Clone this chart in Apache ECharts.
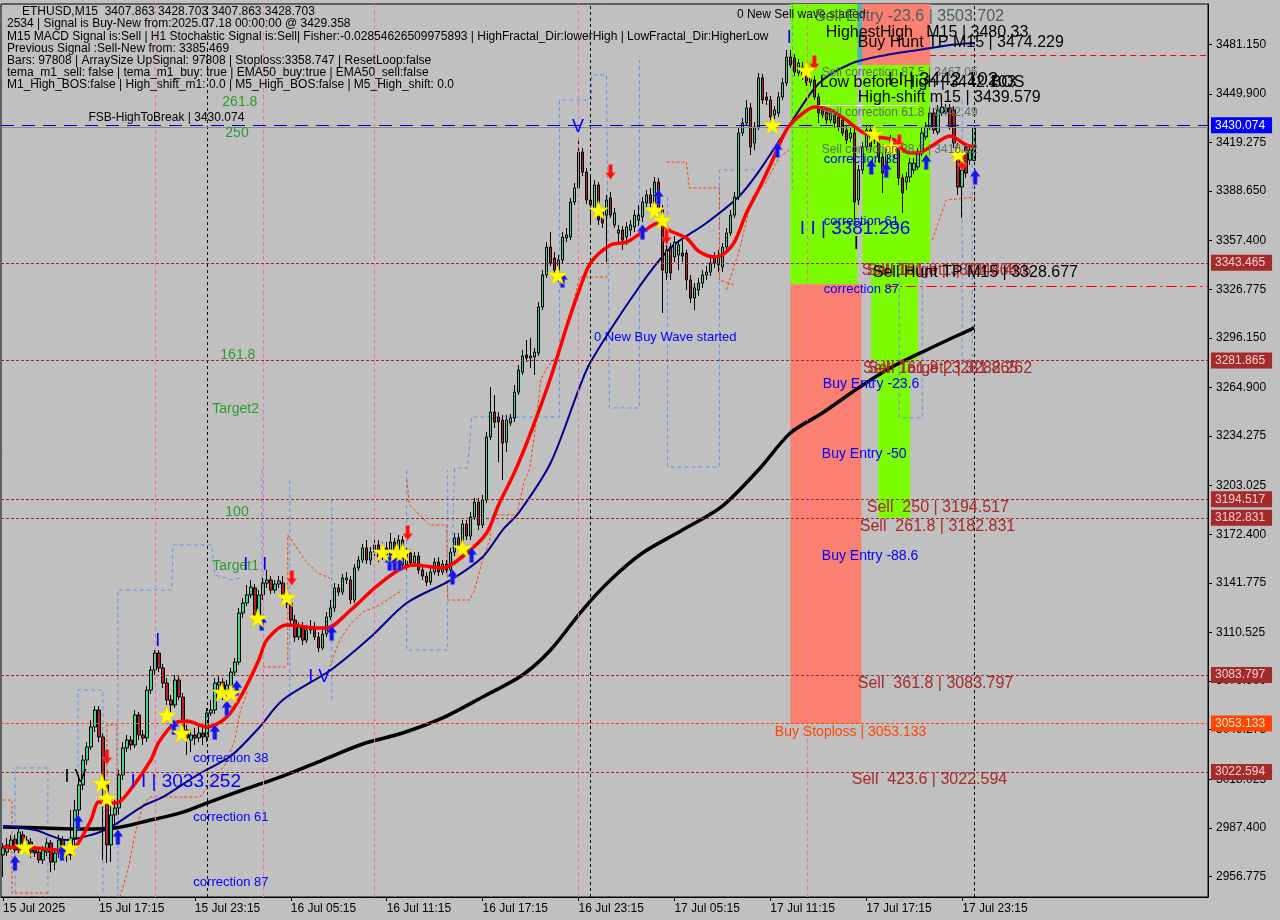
<!DOCTYPE html>
<html><head><meta charset="utf-8">
<script src="https://cdn.jsdelivr.net/npm/echarts@6/dist/echarts.min.js"></script>
<style>html,body{margin:0;padding:0;background:#c0c0c0}#c{width:1280px;height:920px}</style>
</head><body><div id="c"></div>
<script>
// ---------------- DATA ----------------
const barCount = 302;               // visible bar slots (incl. right-hand empty shift)
const startTimeUTC = Date.UTC(2025, 6, 15, 11, 15);
const tickBars = [0, 24, 48, 72, 96, 120, 144, 168, 192, 216, 240];
const tickLabels = ['15 Jul 2025','15 Jul 17:15','15 Jul 23:15','16 Jul 05:15','16 Jul 11:15','16 Jul 17:15','16 Jul 23:15','17 Jul 05:15','17 Jul 11:15','17 Jul 17:15','17 Jul 23:15'];
const priceTicks = [3481.150,3449.900,3419.275,3388.650,3357.400,3326.775,3296.150,3264.900,3234.275,3203.025,3172.400,3141.775,3110.525,3079.900,3049.275,3018.025,2987.400,2956.775];
const priceMin = 2943.9, priceMax = 3506.5;

// [open, close, low, high]
const ohlc = [
[2970.4,2974.8,2956.5,2977.9],[2972.2,2976.7,2969.7,2981.1],[2975.4,2979.8,2973.5,2983.0],[2980.4,2973.5,2971.6,2983.0],
[2973.5,2984.8,2971.6,2987.4],[2983.0,2977.9,2976.0,2985.5],[2976.7,2979.8,2973.5,2982.3],[2978.5,2972.2,2968.5,2981.1],
[2973.5,2971.6,2969.1,2976.0],[2972.2,2967.2,2965.3,2974.8],[2967.2,2973.5,2964.7,2976.0],[2972.2,2977.9,2969.7,2981.1],
[2977.9,2965.9,2959.6,2979.8],[2965.9,2971.6,2960.9,2974.8],[2971.6,2979.8,2968.5,2983.0],[2979.8,2972.2,2969.7,2982.3],
[2972.2,2970.4,2965.9,2974.8],[2970.4,2981.1,2967.2,2998.7],[2981.1,2998.7,2976.7,3005.0],[2998.7,3014.5,2995.6,3020.8],
[3014.5,3030.2,3011.3,3033.4],[3030.2,3038.4,3027.1,3041.5],[3038.4,3051.0,3036.5,3055.4],[3051.0,3061.7,3047.8,3064.2],
[3061.7,3044.7,3041.5,3064.2],[3044.7,3014.5,2967.2,3047.2],[3014.5,2976.7,2965.3,3017.6],[2976.7,2995.6,2965.9,3001.9],
[2995.6,3000.0,2989.3,3005.0],[3000.0,3020.8,2995.6,3023.9],[3020.8,3037.8,3017.6,3041.5],[3037.8,3042.8,3035.2,3046.0],
[3042.8,3039.7,3036.5,3045.3],[3039.7,3058.6,3037.8,3061.7],[3058.6,3046.0,3042.8,3060.4],[3046.0,3044.1,3039.7,3049.1],
[3044.1,3074.3,3041.5,3076.8],[3074.3,3086.9,3071.8,3089.4],[3086.9,3097.6,3083.8,3099.5],[3097.6,3088.2,3085.6,3099.5],
[3088.2,3078.7,3075.6,3090.7],[3078.7,3068.0,3064.9,3081.9],[3068.0,3064.9,3060.4,3071.2],[3064.9,3080.6,3063.0,3083.8],
[3080.6,3069.9,3068.0,3083.1],[3069.9,3049.1,3046.0,3072.4],[3049.1,3044.1,3033.4,3052.3],[3042.8,3046.0,3035.2,3049.1],
[3046.0,3044.1,3039.7,3050.4],[3044.1,3047.2,3041.5,3052.3],[3047.2,3044.7,3039.7,3051.6],[3044.7,3059.8,3041.5,3063.0],
[3059.8,3061.7,3057.9,3068.0],[3061.7,3078.7,3059.2,3081.9],[3077.5,3079.3,3074.3,3083.1],[3079.3,3071.2,3068.0,3081.9],
[3071.2,3077.5,3069.3,3080.6],[3077.5,3085.6,3074.3,3088.2],[3085.6,3091.9,3083.1,3094.5],[3091.9,3122.8,3090.1,3126.0],
[3122.8,3129.1,3119.7,3132.3],[3129.1,3134.2,3127.2,3140.5],[3134.2,3139.2,3132.3,3143.6],[3138.6,3121.6,3118.4,3141.1],
[3121.6,3134.2,3119.7,3137.3],[3134.2,3141.7,3131.0,3144.9],[3141.7,3143.6,3138.6,3149.9],[3143.6,3137.3,3134.8,3146.1],
[3137.3,3141.1,3135.4,3143.6],[3141.1,3143.0,3138.6,3146.1],[3141.7,3134.2,3131.0,3146.1],[3134.2,3129.1,3126.0,3137.3],
[3129.1,3118.4,3115.9,3131.0],[3118.4,3107.7,3104.5,3121.6],[3107.7,3114.0,3105.8,3117.1],[3114.0,3105.8,3102.7,3117.1],
[3105.8,3112.1,3103.9,3115.3],[3112.1,3114.0,3109.6,3118.4],[3114.0,3107.7,3105.8,3117.1],[3107.7,3100.8,3098.2,3110.8],
[3100.8,3109.6,3099.5,3112.1],[3109.6,3120.3,3107.7,3123.4],[3120.3,3126.0,3118.4,3131.0],[3126.0,3138.6,3123.4,3141.7],
[3138.6,3136.0,3133.5,3141.1],[3136.0,3144.9,3134.2,3147.4],[3143.6,3144.9,3141.1,3148.6],[3143.6,3131.0,3128.5,3146.1],
[3131.0,3151.2,3129.1,3153.7],[3151.2,3156.2,3149.3,3158.7],[3156.2,3163.8,3154.3,3166.3],[3163.8,3156.2,3153.7,3168.8],
[3156.2,3161.2,3153.1,3164.4],[3161.2,3165.7,3158.7,3170.1],[3165.7,3158.1,3154.9,3168.8],[3158.1,3163.8,3156.2,3167.5],
[3163.8,3159.4,3156.2,3167.5],[3159.4,3167.5,3157.5,3173.2],[3167.5,3160.6,3158.1,3170.1],[3160.6,3168.8,3158.7,3172.0],
[3168.8,3153.1,3151.2,3171.3],[3153.1,3160.6,3149.9,3163.8],[3160.6,3154.3,3152.4,3163.1],[3154.3,3158.7,3151.8,3161.2],
[3158.7,3149.9,3147.4,3161.2],[3149.9,3146.1,3143.6,3153.1],[3146.1,3142.3,3139.8,3148.6],[3142.3,3148.6,3140.5,3151.2],
[3148.6,3154.9,3146.8,3157.5],[3154.9,3148.6,3146.1,3158.1],[3148.6,3153.7,3146.8,3156.2],[3153.7,3149.9,3148.0,3156.2],
[3149.9,3161.2,3148.0,3163.8],[3161.2,3170.1,3158.7,3173.2],[3170.1,3165.0,3162.5,3173.2],[3165.0,3178.9,3163.1,3181.4],
[3178.9,3171.3,3168.8,3181.4],[3171.3,3183.3,3168.8,3186.4],[3183.3,3192.7,3181.4,3195.3],[3192.7,3178.3,3175.1,3195.3],
[3178.3,3194.0,3176.4,3197.2],[3194.0,3233.7,3192.1,3236.8],[3233.7,3249.4,3231.8,3265.2],[3249.4,3243.1,3239.4,3260.2],
[3246.3,3243.1,3217.9,3249.4],[3244.4,3229.9,3206.6,3247.6],[3230.5,3244.4,3224.2,3247.6],[3242.5,3245.7,3240.6,3248.2],
[3245.7,3262.0,3243.1,3266.4],[3262.0,3275.9,3260.2,3279.1],[3274.6,3284.7,3272.8,3288.5],[3285.4,3283.5,3280.9,3294.8],
[3283.5,3284.7,3277.2,3296.1],[3284.1,3287.2,3272.8,3289.8],[3286.6,3315.6,3284.7,3318.7],[3315.6,3335.8,3313.7,3338.9],
[3335.8,3353.4,3333.9,3356.5],[3353.4,3343.3,3341.4,3362.8],[3346.5,3338.9,3335.8,3350.2],[3335.8,3345.2,3331.3,3348.4],
[3345.2,3359.7,3343.3,3362.8],[3359.1,3361.0,3356.5,3365.4],[3359.7,3381.7,3357.8,3384.3],[3381.7,3390.6,3379.9,3393.7],
[3390.6,3413.2,3389.3,3422.7],[3413.2,3400.6,3398.1,3415.8],[3400.6,3383.0,3380.5,3403.2],[3383.0,3379.9,3368.5,3397.5],
[3378.0,3392.5,3375.4,3395.6],[3392.5,3370.4,3367.3,3394.3],[3375.4,3368.5,3365.4,3378.0],[3373.5,3383.0,3343.9,3386.2],
[3384.3,3373.5,3371.7,3388.0],[3367.3,3374.8,3365.4,3378.0],[3362.2,3364.1,3354.7,3367.3],[3364.1,3357.8,3351.5,3366.6],
[3359.7,3366.0,3354.7,3369.1],[3364.1,3367.3,3360.3,3370.4],[3366.0,3373.5,3362.8,3376.7],[3370.4,3373.5,3366.6,3379.9],
[3372.3,3381.7,3369.1,3384.9],[3381.1,3386.2,3378.6,3389.3],[3386.2,3381.1,3378.6,3390.6],[3378.6,3394.3,3376.7,3397.5],
[3394.3,3376.7,3374.2,3396.9],[3376.7,3338.9,3311.8,3379.9],[3337.0,3351.5,3332.6,3354.7],[3353.4,3337.0,3332.6,3355.9],
[3347.1,3356.5,3343.9,3360.3],[3348.4,3354.7,3338.9,3357.8],[3349.6,3347.7,3343.9,3357.8],[3349.6,3332.6,3326.3,3351.5],
[3332.6,3321.3,3318.1,3335.8],[3321.3,3327.6,3313.7,3330.7],[3326.3,3330.7,3322.5,3333.9],[3330.7,3335.8,3327.6,3338.9],
[3335.8,3337.6,3332.6,3341.4],[3337.6,3343.3,3335.1,3346.5],[3347.1,3343.3,3340.2,3350.2],[3342.1,3347.1,3337.6,3351.5],
[3340.8,3353.4,3337.6,3355.9],[3353.4,3362.2,3351.5,3365.4],[3362.2,3373.5,3360.3,3376.7],[3373.5,3384.9,3371.7,3388.0],
[3384.9,3425.2,3383.0,3428.4],[3425.2,3431.5,3423.3,3434.7],[3431.5,3441.0,3429.6,3446.0],[3441.0,3416.4,3411.4,3444.1],
[3418.9,3429.0,3414.5,3432.1],[3429.0,3459.9,3427.1,3463.0],[3459.9,3446.0,3443.5,3462.4],[3447.9,3446.0,3442.9,3451.0],
[3446.0,3435.3,3430.3,3448.5],[3436.6,3439.7,3434.0,3442.2],[3437.8,3447.9,3435.3,3451.0],[3447.9,3456.7,3446.0,3459.9],
[3456.7,3473.1,3454.8,3477.5],[3473.1,3468.0,3466.2,3477.5],[3472.5,3463.6,3461.1,3475.0],[3463.0,3469.3,3461.1,3471.8],
[3460.5,3466.8,3458.6,3470.0],[3463.0,3456.7,3454.8,3466.2],[3457.3,3459.9,3454.8,3461.8],[3458.6,3447.9,3446.0,3461.1],
[3447.9,3437.8,3431.5,3450.4],[3439.7,3436.6,3434.7,3442.2],[3438.4,3433.4,3430.9,3441.0],[3433.4,3437.8,3431.5,3441.0],
[3436.6,3431.5,3429.0,3439.1],[3435.3,3429.0,3426.5,3437.8],[3433.4,3425.2,3423.3,3435.9],[3427.1,3420.8,3418.3,3429.6],
[3422.1,3425.2,3419.5,3428.4],[3425.2,3381.7,3370.4,3428.4],[3383.0,3401.9,3379.9,3405.1],[3401.9,3416.4,3399.4,3419.5],
[3416.4,3427.1,3414.5,3430.3],[3427.1,3416.4,3413.2,3429.6],[3420.8,3425.2,3418.3,3428.4],[3424.0,3410.1,3406.9,3426.5],
[3410.1,3400.0,3387.4,3412.6],[3403.8,3414.5,3400.6,3417.7],[3414.5,3420.8,3412.0,3424.0],[3418.9,3412.6,3409.5,3422.1],
[3418.9,3396.9,3392.5,3422.1],[3396.9,3387.4,3374.8,3399.4],[3394.3,3397.5,3389.3,3400.6],[3397.5,3406.3,3394.3,3409.5],
[3401.9,3406.3,3399.4,3409.5],[3403.8,3412.6,3401.9,3415.8],[3412.6,3425.2,3410.7,3428.4],[3422.7,3429.0,3420.8,3432.1],
[3429.0,3437.8,3427.1,3441.0],[3437.8,3427.1,3424.6,3441.0],[3425.8,3439.7,3424.0,3442.9],[3437.8,3441.6,3435.9,3444.7],
[3438.4,3441.0,3436.6,3443.5],[3441.0,3429.0,3427.1,3443.5],[3439.7,3418.9,3415.8,3442.2],[3416.4,3391.2,3386.2,3418.9],
[3391.2,3401.9,3371.7,3405.1],[3416.4,3400.0,3396.9,3418.9],[3408.2,3414.5,3405.1,3417.7],[3407.863,3428.703,3407.863,3428.703]
];

// moving averages read at sample bars: [barIndex, price]
const maSlow = [[0,2988.0],[10,2987.4],[20,2986.7],[28,2987.4],[36,2991.8],[45,2997.4],[51,3003.1],[60,3011.3],[70,3020.1],[80,3030.2],[90,3040.3],[100,3047.2],[110,3056.7],[120,3069.9],[130,3083.8],[137,3099.5],[145,3124.7],[152,3143.6],[160,3160.6],[170,3175.1],[180,3190.2],[189,3212.9],[197,3236.2],[205,3248.8],[214,3264.6],[222,3277.2],[230,3287.2],[238,3296.7],[243,3302.4]];
const maMid = [[0,2988.6],[8,2986.1],[16,2979.8],[22,2983.0],[27,2988.0],[35,3001.2],[40,3006.9],[49,3021.4],[57,3032.7],[64,3050.4],[70,3068.0],[82,3086.9],[92,3107.7],[101,3129.1],[112,3143.6],[120,3158.1],[125,3175.1],[129,3185.8],[137,3217.3],[144,3263.3],[147,3280.9],[159,3327.6],[167,3352.8],[176,3368.5],[184,3384.9],[189,3400.6],[196,3427.1],[204,3456.1],[212,3468.7],[221,3474.4],[229,3477.5],[237,3480.7],[243,3481.9]];
const maFast = [[0,2975.4],[8,2974.8],[14,2973.5],[17,2973.5],[19,2978.5],[22,2992.4],[24,3003.7],[27,3003.1],[29,3003.7],[32,3011.9],[37,3030.2],[39,3041.5],[43,3053.5],[46,3054.8],[51,3051.0],[56,3057.3],[60,3072.4],[64,3093.2],[66,3105.8],[71,3115.3],[79,3113.4],[81,3113.4],[87,3124.7],[93,3138.6],[99,3149.9],[103,3153.1],[110,3151.2],[116,3160.6],[121,3173.2],[124,3190.9],[128,3211.6],[132,3236.2],[137,3270.9],[141,3303.0],[144,3325.0],[147,3343.3],[152,3354.7],[156,3356.5],[160,3362.8],[164,3368.5],[167,3363.5],[171,3359.1],[174,3350.9],[178,3347.1],[180,3348.4],[183,3356.5],[186,3374.8],[189,3389.3],[192,3405.1],[196,3427.1],[199,3435.3],[203,3441.6],[207,3439.7],[211,3433.4],[215,3425.8],[219,3422.7],[223,3420.8],[226,3413.2],[229,3412.6],[232,3416.4],[237,3423.3],[241,3417.7],[243,3416.4]];

// full-width levels with price badges: [price, kind]
const levels = [[3430.074,'fsb'],[3343.465,'sell'],[3281.865,'sell'],[3194.517,'sell'],[3182.831,'sell'],[3083.797,'sell'],[3053.133,'stop'],[3022.594,'sell']];
const bidPrice = 3428.703;
// partial levels: [fromBar, toBar, price, kind]
const partialLevels = [[232,301.5,3474.229,'buyHunt'],[221,301.5,3328.677,'sellHunt'],[204,229,3442.49,'corr'],[203.5,214,3480.33,'hh']];
// zones: [fromBar, toBar, topPrice, bottomPrice, kind]
const zones = [[197,213.75,3506.5,3330.0,'buy'],[197,214.75,3330.0,3053.133,'sell'],[213.75,215,3506.5,3468.0,'mix'],[215,232,3506.5,3468.0,'sell'],[215,232,3468.0,3343.465,'buy'],[217.25,229,3343.465,3281.865,'buy'],[219,227,3281.865,3182.831,'buy']];
// vertical markers (bar index)
const daySeparators = [51,147,243];
const pinkVerticals = [38,65,93,144,201.25];
// thin dashed channel segments: [barIndex, price]
const blueSegments = [
 [[3,2946.4],[3,3025.2],[11.25,3025.2],[11.25,2946.4]],
 [[18.75,3020.8],[18.75,3074.3],[25,3074.3],[25,2946.4]],
 [[28.75,2943.9],[28.75,3137.3],[42.25,3137.3],[42.5,3165.7],[52.25,3165.7],[53,3146.8],[57.25,3143.6],[59.25,3144.9]],
 [[64.75,3212.9],[64.75,3118.4]],
 [[71.75,3206.6],[71.75,3068.0]],
 [[82.25,3194.0],[82.25,3068.0]],
 [[101,3212.9],[101,3099.5],[111.25,3099.5],[111.25,3212.9]],
 [[112.25,3149.9],[113,3214.2],[116.25,3214.2],[117.25,3246.3],[139.25,3246.3],[139.25,3446.0],[147.25,3446.0],[147.25,3461.8],[151,3461.8],[151.75,3252.0],[159.25,3252.0],[159.25,3471.2]],
 [[166.25,3384.9],[166.25,3214.8],[179.25,3214.8],[179.25,3401.9],[189.25,3401.9]],
 [[197.5,3506.5],[197.5,3390.0]],
 [[224.25,3345.2],[224.25,3245.7],[230,3245.7],[230,3332.6]],
 [[240,3446.0],[240,3282.2],[242.5,3282.2],[242.5,3420.8]]
];
const orangeSegments = [
 [[0,3005.0],[2.25,3005.0],[2.25,2946.4],[11.25,2946.4]],
 [[26,3000.6],[26,3052.3],[28.5,3052.3],[28.5,3000.6]],
 [[29.25,2943.9],[31.25,2960.9],[33,2983.0],[35,3001.9],[36.75,3006.9],[49.25,3006.9],[51.75,3014.5],[55.5,3027.1],[58,3042.8],[59.25,3059.8],[61.25,3074.3]],
 [[71.25,3090.0],[71.25,3172.0],[73,3165.7],[75.5,3156.2],[78.75,3148.0],[81.75,3144.9]],
 [[65,3088.8],[71.25,3088.8]],
 [[81.75,3088.8],[84.25,3105.8],[86.75,3115.3],[90,3123.4],[94.25,3127.9],[98,3134.2],[100,3137.3]],
 [[101,3206.6],[101.75,3190.9],[104.25,3184.6],[106.75,3178.3],[111,3178.3],[111.25,3131.0],[116.75,3131.0],[118,3137.3],[120,3156.2],[121.75,3168.8],[122.5,3184.6],[128.5,3184.6],[130.5,3206.6],[131.75,3212.9],[133.5,3244.4],[134.5,3269.6],[136.25,3277.8],[139.25,3287.2],[142.25,3313.7],[144.25,3334.5],[151.25,3334.5]],
 [[166,3406.9],[171,3406.9],[171.75,3390.6],[179.25,3390.6],[179.25,3332.6],[183,3329.5]],
 [[181,3326.3],[184.25,3351.5],[187.5,3384.9],[190.5,3392.5],[194.25,3410.1],[196.75,3414.5]],
 [[232.5,3357.8],[236,3383.0],[243.5,3384.9]]
];
// signal markers: [barIndex, price]
const stars = [[5.5,2975.4],[16.75,2974.8],[24.75,3015.7],[26,3006.3],[41,3058.6],[44.75,3047.2],[54.75,3073.0],[57,3072.4],[63.75,3119.7],[71,3132.9],[95,3161.2],[98.5,3161.2],[100,3161.2],[115,3163.8],[138.75,3335.8],[149,3376.7],[163,3376.7],[165,3370.4],[192.5,3430.3],[201,3464.9],[218,3424.6],[222.25,3416.4],[239,3412.0]];
const upArrows = [[3,2965.3],[14.75,2971.6],[18.75,2991.1],[28.75,2981.7],[42.75,3051.0],[53,3047.8],[56,3062.9],[58.5,3075.6],[64.75,3116.5],[82.25,3110.2],[96.75,3154.3],[98,3154.3],[99.25,3154.3],[112.5,3145.5],[117.25,3159.4],[140,3332.6],[160,3362.8],[164,3384.9],[193.75,3414.5],[217.25,3403.8],[221,3401.9],[231,3406.9],[243.25,3397.5]];
const downArrows = [[26,3032.1],[72.25,3144.9],[101.25,3173.2],[152,3400.6],[166,3359.7],[203,3469.3],[224.25,3419.5],[240,3406.3]];
// chart annotations: [barIndex, price, text, kind]
const notes = [
 [21.25,3434.7,'FSB-HighToBreak | 3430.074','info'],
 [54.75,3444.7,'261.8','fib'],[55.5,3425.2,'250','fib'],[54.25,3285.4,'161.8','fib'],
 [52.25,3251.3,'Target2','fib'],[55.5,3186.4,'100','fib'],[52.25,3152.4,'Target1','fib'],
 [47.5,3031.5,'correction 38','corr'],[47.5,2994.3,'correction 61','corr'],[47.5,2953.3,'correction 87','corr'],
 [31.75,3016.3,'I I | 3033.252','wave'],[76.25,3082.5,'I V','waveS'],[15.25,3019.5,'I V','waveK'],
 [38,3105.2,'I','waveS'],[60,3153.1,'I','waveS'],[64.75,3153.1,'I','waveS'],[142.25,3429.0,'V','waveS'],[196,3485.1,'I','waveS'],
 [212.75,3355.0,'I','waveK'],
 [147.75,3296.7,'0 New Buy Wave started','corr'],
 [183.5,3499.6,'0 New Sell wave started','info'],
 [203,3498.3,'Sell Entry -23.6 | 3503.702','slate'],
 [205.75,3488.8,'HighestHigh   M15 | 3480.33','big'],
 [213.75,3481.9,'Buy Hunt TP M15 | 3474.229','big'],
 [204.75,3463.0,'Sell correction 87.5 | 3467.05','slateS'],
 [204.25,3456.7,'Low before High | 3442.103','big'],
 [221.25,3458.6,'I I | 3442.102','waveK2'],
 [247,3456.7,'BOS','big'],
 [213.75,3447.3,'High-shift m15 | 3439.579','big'],
 [204.75,3437.8,'Sell correction 61.8 | 3442.49','slateS'],
 [204.75,3414.5,'Sell correction 38.2 | 3416.12','slateS'],
 [205.25,3408.8,'correction 38','corr'],[205.25,3369.8,'correction 61','corr'],
 [199.25,3364.7,'I I | 3381.296','wave'],
 [214.75,3338.3,'Sell  161.8 | 3343.465','sell'],[216,3338.3,'Sell Target1 | 3343.465','sell'],
 [217.5,3337.0,'Sell Hunt TP M15 | 3328.677','big'],
 [205.25,3326.9,'correction 87','corr'],
 [215,3276.5,'Sell  161.8 | 3281.865','sell'],[216.25,3276.5,'Sell Target2 | 3282.262','sell'],
 [205,3267.1,'Buy Entry -23.6','entry'],[204.75,3223.0,'Buy Entry -50','entry'],
 [216,3189.0,'Sell  250 | 3194.517','sell'],[214.25,3177.0,'Sell  261.8 | 3182.831','sell'],
 [204.75,3158.7,'Buy Entry -88.6','entry'],
 [213.75,3078.1,'Sell  361.8 | 3083.797','sell'],
 [193,3047.8,'Buy Stoploss | 3053.133','stop'],
 [212.25,3017.6,'Sell  423.6 | 3022.594','sell']
];
const infoLines = [
 'ETHUSD,M15  3407.863 3428.703 3407.863 3428.703',
 '2534 | Signal is Buy-New from:2025.07.18 00:00:00 @ 3429.358',
 'M15 MACD Signal is:Sell | H1 Stochastic Signal is:Sell| Fisher:-0.02854626509975893 | HighFractal_Dir:lowerHigh | LowFractal_Dir:HigherLow',
 'Previous Signal :Sell-New from: 3385.469',
 'Bars: 97808 | ArraySize UpSignal: 97808 | Stoploss:3358.747 | ResetLoop:false',
 'tema_m1_sell: false | tema_m1_buy: true | EMA50_buy:true | EMA50_sell:false',
 'M1_High_BOS:false | High_shift_m1: 0.0 | M5_High_BOS:false | M5_High_shift: 0.0'
];

// ---------------- STYLE / BUILD ----------------
const FONT = '"Liberation Sans", Arial, sans-serif';
const pad = n => String(n).padStart(2,'0');
const MON = ['Jan','Feb','Mar','Apr','May','Jun','Jul','Aug','Sep','Oct','Nov','Dec'];
const categories = [];
for (let i = 0; i < barCount; i++) {
  const d = new Date(startTimeUTC + i * 900000);
  categories.push(d.getUTCDate() + ' ' + MON[d.getUTCMonth()] + ' ' + pad(d.getUTCHours()) + ':' + pad(d.getUTCMinutes()));
}
const isTick = idx => tickBars.indexOf(idx) >= 0;

const zoneColor = {buy:'#7cfc00', sell:'#fa8072', mix:'#4fb3a5'};
const levelStyle = {
  fsb:  {line:{color:'#0000cd', type:[13,8], width:1}, bg:'#0000ff', fg:'#ffffff'},
  sell: {line:{color:'#a52a2a', type:[3,2], width:1}, bg:'#a52a2a', fg:'#f6d2d2'},
  stop: {line:{color:'#ff4500', type:[3,2], width:1}, bg:'#ff4500', fg:'#ffe4d8'}
};
const partialStyle = {
  buyHunt:{color:'#ff0000', type:[6,4], width:1},
  sellHunt:{color:'#ff0000', type:[10,4,2,4], width:1},
  corr:{color:'#ffffff', type:'solid', width:1},
  hh:{color:'#c8c850', type:'solid', width:1}
};
const noteStyle = {
  info:{color:'#000000', fontSize:12},
  fib:{color:'#2e9a2e', fontSize:14},
  corr:{color:'#0000ff', fontSize:13},
  wave:{color:'#0000ff', fontSize:19},
  waveS:{color:'#0000ff', fontSize:18},
  waveK:{color:'#000000', fontSize:18},
  waveK2:{color:'#000000', fontSize:19},
  slate:{color:'#4c5e5e', fontSize:16},
  slateS:{color:'#5d6d6d', fontSize:12},
  big:{color:'#000000', fontSize:16},
  sell:{color:'#a52a2a', fontSize:16},
  entry:{color:'#0000ff', fontSize:14},
  stop:{color:'#ff4500', fontSize:14}
};

const series = [];
// zones
series.push({
  type:'line', xAxisIndex:1, data:[], silent:true, z:1,
  markArea:{silent:true, data: zones.map(z => [
    {xAxis:z[0], yAxis:z[2], itemStyle:{color:zoneColor[z[4]], opacity:1}},
    {xAxis:z[1], yAxis:z[3]}
  ])}
});
// vertical lines + levels
const vLines = daySeparators.map(b => ({xAxis:b, lineStyle:{color:'#000', type:[3,3], width:1}}))
  .concat(pinkVerticals.map(b => ({xAxis:b, lineStyle:{color:'#ff69b4', type:[4,3], width:1}})));
const hLines = levels.map(l => {
  const s = levelStyle[l[1]];
  return {yAxis:l[0], lineStyle:s.line, label:{show:true, position:'end', distance:3, formatter:l[0].toFixed(3),
    backgroundColor:s.bg, color:s.fg, fontSize:12, fontFamily:FONT, padding:[2,7,1,4], lineHeight:13}};
});
hLines.push({yAxis:bidPrice, lineStyle:{color:'#8a8a8a', type:'solid', width:1}, label:{show:false}});
const pLines = partialLevels.map(p => [
  {coord:[p[0], p[2]], lineStyle:partialStyle[p[3]], label:{show:false}},
  {coord:[p[1], p[2]]}
]);
series.push({
  type:'line', xAxisIndex:1, data:[], silent:true, z:3,
  markLine:{silent:true, symbol:['none','none'], animation:false, label:{show:false},
    data: vLines.concat(hLines).concat(pLines)}
});
// thin dashed channels
blueSegments.forEach(seg => series.push({type:'line', xAxisIndex:1, data:seg, showSymbol:false, silent:true, z:2,
  lineStyle:{color:'#6495ed', width:1, type:[4,3]}}));
orangeSegments.forEach(seg => series.push({type:'line', xAxisIndex:1, data:seg, showSymbol:false, silent:true, z:2,
  lineStyle:{color:'#ff4500', width:1, type:[3,2]}}));
// slow MAs
series.push({type:'line', xAxisIndex:1, data:maSlow, showSymbol:false, smooth:0.3, silent:true, z:3,
  lineStyle:{color:'#000000', width:3.5}});
series.push({type:'line', xAxisIndex:1, data:maMid, showSymbol:false, smooth:0.3, silent:true, z:3,
  lineStyle:{color:'#00008b', width:2}});
// candles
series.push({type:'candlestick', xAxisIndex:0, data:ohlc, barWidth:3, silent:true, z:4,
  itemStyle:{color:'#3cd68a', color0:'#b22222', borderColor:'#000', borderColor0:'#000', borderWidth:1}});
// fast MA
series.push({type:'line', xAxisIndex:1, data:maFast, showSymbol:false, smooth:0.3, silent:true, z:5,
  lineStyle:{color:'#ff0000', width:3.5}});
// markers
const STAR = 'path://M50,0 L61,35 L98,35 L68,57 L79,91 L50,70 L21,91 L32,57 L2,35 L39,35 Z';
const UP = 'path://M5,0 L10,7 L7,7 L7,15 L3,15 L3,7 L0,7 Z';
const DOWN = 'path://M3,0 L7,0 L7,8 L10,8 L5,15 L0,8 L3,8 Z';
series.push({type:'scatter', xAxisIndex:1, data:upArrows, symbol:UP, symbolSize:[10,15], silent:true, z:6,
  itemStyle:{color:'#1414e6', borderColor:'#5a5aff', borderWidth:0.5, opacity:1}});
series.push({type:'scatter', xAxisIndex:1, data:downArrows, symbol:DOWN, symbolSize:[10,15], silent:true, z:6,
  itemStyle:{color:'#ff1010', borderColor:'#ff7070', borderWidth:0.5, opacity:1}});
series.push({type:'scatter', xAxisIndex:1, data:stars, symbol:STAR, symbolSize:[20,19], silent:true, z:7,
  itemStyle:{color:'#ffff00', borderColor:'#e6c800', borderWidth:0.6, opacity:1}});
// annotations
series.push({type:'scatter', xAxisIndex:1, symbol:'circle', symbolSize:1, silent:true, z:8,
  itemStyle:{color:'rgba(0,0,0,0)', opacity:1},
  labelLayout:{hideOverlap:false},
  data: notes.map(n => ({value:[n[0], n[1]], label:{show:true, position:'right', distance:0, formatter:n[2],
    color:noteStyle[n[3]].color, fontSize:noteStyle[n[3]].fontSize, fontFamily:FONT, opacity:1}}))
});

const option = {
  animation:false,
  backgroundColor:'#c0c0c0',
  textStyle:{fontFamily:FONT},
  grid:{left:1, right:72, top:4, bottom:23, show:true, borderColor:'#000', borderWidth:1, backgroundColor:'transparent', containLabel:false, outerBoundsMode:'none'},
  xAxis:[
    {type:'category', data:categories, boundaryGap:true,
     axisLine:{show:true, lineStyle:{color:'#000', width:1}},
     axisTick:{show:true, interval:(i)=>isTick(i), alignWithLabel:true, length:4, lineStyle:{color:'#000'}},
     axisLabel:{show:true, interval:(i)=>isTick(i), formatter:(v,i)=>tickLabels[tickBars.indexOf(i)], align:'left', margin:6, color:'#000', fontSize:12, fontFamily:FONT},
     splitLine:{show:false}},
    {type:'value', min:-0.5, max:barCount-0.5, show:false, splitLine:{show:false}}
  ],
  yAxis:{type:'value', position:'right', min:priceMin, max:priceMax,
    axisLine:{show:true, onZero:false, lineStyle:{color:'#000', width:1}},
    axisTick:{show:true, customValues:priceTicks, length:4, lineStyle:{color:'#000'}},
    axisLabel:{show:true, customValues:priceTicks, formatter:v=>Number(v).toFixed(3), color:'#000', fontSize:12, margin:8, fontFamily:FONT},
    splitLine:{show:false}},
  graphic: infoLines.map((t,i) => ({type:'text', left: i===0 ? 22 : 7, top: 6 + i*12.15, z:100,
    style:{text:t, fill:'#000', font:'12px ' + FONT}})),
  series: series
};
const chart = echarts.init(document.getElementById('c'));
chart.setOption(option);
</script>
</body></html>
